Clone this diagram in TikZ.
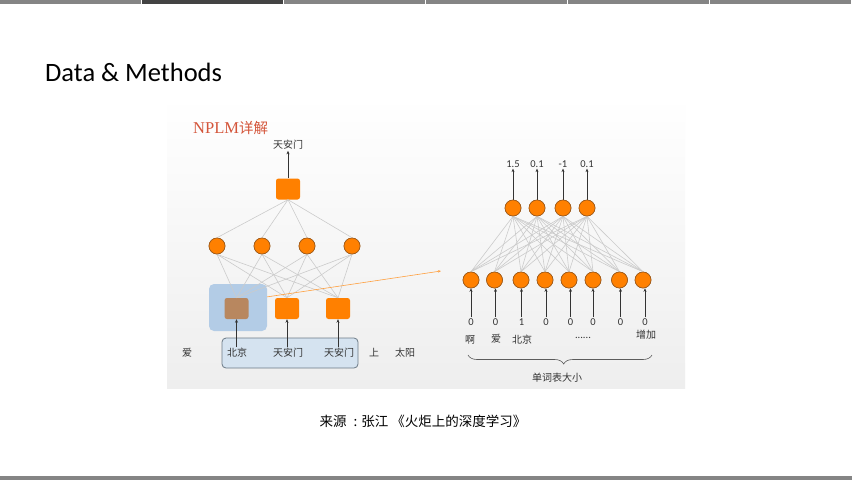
\documentclass[tikz,border=0pt]{standalone}
\usepackage{fontspec}
\setmainfont{Carlito}
\newfontfamily\cjk{Noto Sans CJK SC}
\newfontfamily\serifnum{Liberation Serif}
\usetikzlibrary{arrows.meta,decorations.pathreplacing}
\definecolor{org}{HTML}{FF8000}
\definecolor{orgline}{HTML}{9A5A1E}
\definecolor{brownsq}{HTML}{B8875F}
\definecolor{bluebox}{HTML}{B3CCE6}
\definecolor{wordbox}{HTML}{D5E3F0}
\definecolor{wordedge}{HTML}{6C7A86}
\definecolor{conn}{HTML}{CBCBCB}
\definecolor{titlered}{HTML}{D4553A}
\definecolor{barlight}{HTML}{858585}
\definecolor{bardark}{HTML}{434343}
\definecolor{txt}{HTML}{333333}
\tikzset{
  circ/.style={circle,fill=org,draw=orgline,line width=0.6pt,minimum size=16pt,inner sep=0pt},
  sqr/.style={rectangle,rounded corners=2.5pt,fill=org,minimum width=24pt,minimum height=21pt,inner sep=0pt},
  conline/.style={draw=conn,line width=0.6pt},
  arr/.style={draw=txt,line width=0.7pt,-{Stealth[length=3.5pt,width=3pt]}},
  cw/.style={font=\cjk\fontsize{10}{12}\selectfont,text=txt,inner sep=1pt},
  num/.style={font=\fontsize{10.5}{12}\selectfont,text=txt,inner sep=1pt}
}
\begin{document}
\begin{tikzpicture}[x=1pt,y=-1pt]
\useasboundingbox (0,0) rectangle (852,480);
\fill[white] (0,0) rectangle (852,480);
% top bar segments
\foreach \i in {0,2,3,4,5} \fill[barlight] (\i*142,0) rectangle (\i*142+141,4);
\fill[bardark] (142,0) rectangle (283,4);
% bottom bar
\fill[barlight] (0,476) rectangle (852,480);
% title
\node[anchor=west,font=\fontsize{26.5}{30}\selectfont,inner sep=0pt] (title) at (45,72) {Data \& Methods};
% image background
\shade[top color=white,bottom color={rgb,255:red,238;green,238;blue,238}] (167,96) rectangle (685,388);
\node[anchor=west,text=titlered,inner sep=0pt] (nplm) at (193,128) {{\serifnum\fontsize{16.5}{18}\selectfont NPLM}{\cjk\fontsize{14.5}{16}\selectfont 详解}};

% ---------- left network ----------
\node[cw] (tl) at (288,145) {天安门};
\node[sqr] (top) at (288,189) {};
\foreach \x [count=\k] in {217,262,307,352} \node[circ] (h\k) at (\x,246) {};
\node[rectangle,rounded corners=5pt,fill=bluebox,minimum width=58pt,minimum height=47pt,inner sep=0pt] (bb) at (238,307.5) {};
\node[sqr,fill=brownsq] (b1) at (236.5,308.5) {};
\node[sqr] (b2) at (287,308.5) {};
\node[sqr] (b3) at (338,308.5) {};
\foreach \k in {1,...,4} \draw[conline] (top.south) -- (h\k.north);
\foreach \k in {1,...,4} \foreach \j in {1,2,3} \draw[conline] (h\k.south) -- (b\j.north);
\foreach \k in {1,...,4} \node[circ] at (h\k) {};
\draw[arr] (top) -- (tl);
\coordinate (oa) at (441,271);
\draw[draw=org!75,line width=0.6pt,-{Stealth[length=3pt,width=2.5pt]}] (bb.20) -- (oa);
\node[rectangle,rounded corners=4pt,fill=wordbox,draw=wordedge,line width=0.8pt,minimum width=136pt,minimum height=30pt,inner sep=0pt] (wb) at (290,353) {};
\node[cw] (w0) at (187,353) {爱};
\node[cw] (w1) at (237,353) {北京};
\node[cw] (w2) at (288,353) {天安门};
\node[cw] (w3) at (339,353) {天安门};
\node[cw] (w4) at (374,353) {上};
\node[cw] (w5) at (405,353) {太阳};
\draw[arr] (w1.north -| b1) -- (b1);
\draw[arr] (w2.north -| b2) -- (b2);
\draw[arr] (w3.north -| b3) -- (b3);

% ---------- right network ----------
\foreach \x/\l [count=\k] in {513/1.5,537/0.1,563/-1,587/0.1} {
  \node[circ] (o\k) at (\x,208) {};
  \node[num] (ol\k) at (\x,164) {\l};
  \draw[arr] (o\k) -- (ol\k);
}
\foreach \x [count=\k] in {471,494.5,521,545,569,593,619.5,643} \node[circ] (i\k) at (\x,280) {};
\foreach \k in {1,...,8} \foreach \j in {1,...,4} \draw[conline] (i\k.north) -- (o\j.south);
\foreach \k in {1,...,8} \node[circ] at (i\k) {};
\foreach \k in {1,...,4} \node[circ] at (o\k) {};
\foreach \x/\v [count=\k] in {471/0,495.5/0,521.5/1,546/0,570.5/0,593/0,620.5/0,645/0} {
  \node[num] (v\k) at (\x,322) {\v};
  \draw[arr] (v\k.north) -- (i\k.south -| v\k.north);
}
\node[cw] (r1) at (470,340) {啊};
\node[cw] (r2) at (496,339) {爱};
\node[cw] (r3) at (522,340) {北京};
\node[num] (r4) at (583,338) {......};
\node[cw] (r5) at (646,335) {增加};
\coordinate (br) at (652,355);
\coordinate (bl) at (468,355);
\draw[draw=txt!80,line width=0.6pt,decorate,decoration={brace,amplitude=9pt,aspect=0.48}] (br) -- (bl);
\node[cw] (bs) at (557,378) {单词表大小};

% caption
\node[font=\cjk\fontsize{13.5}{16}\selectfont,text=black] (cap) at (423,421) {来源\hspace{7pt}:\hspace{4pt}张江 《火炬上的深度学习》};
\end{tikzpicture}
\end{document}
